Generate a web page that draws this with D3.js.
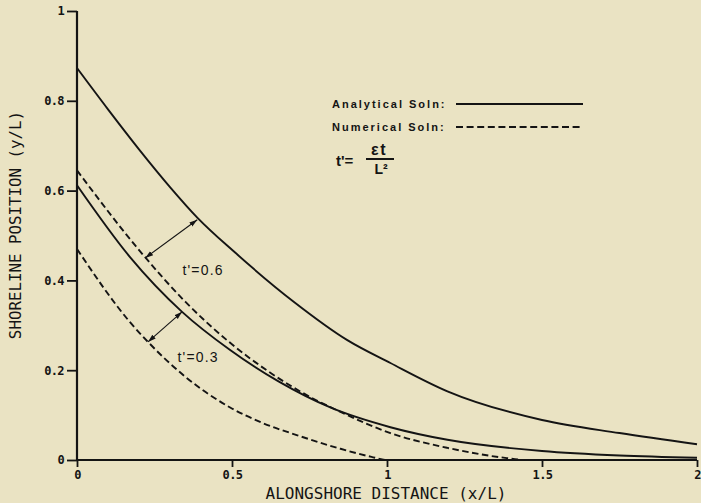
<!DOCTYPE html>
<html>
<head>
<meta charset="utf-8">
<script src="https://cdn.jsdelivr.net/npm/d3@7"></script>
<style>
  html, body { margin: 0; padding: 0; background: #eae3c3; }
  svg { display: block; }
</style>
</head>
<body>
<svg id="chart" width="701" height="503"></svg>
<script>
// ---- Data ----
const xTicks = [0, 0.5, 1, 1.5, 2];
const xTickLabels = ["0", "0.5", "1", "1.5", "2"];
const yTicks = [0, 0.2, 0.4, 0.6, 0.8, 1];
const yTickLabels = ["0", "0.2", "0.4", "0.6", "0.8", "1"];

const analyticalUpperX = [0, 0.1, 0.2, 0.3, 0.388, 0.51, 0.7, 0.872, 1.011, 1.195, 1.5, 1.75, 2.0];
const analyticalUpperY = [0.873, 0.781, 0.692, 0.608, 0.540, 0.462, 0.352, 0.267, 0.216, 0.153, 0.089, 0.060, 0.035];

const analyticalLowerX = [0, 0.171, 0.339, 0.494, 0.65, 0.817, 1.011, 1.195, 1.5, 1.75, 2.0];
const analyticalLowerY = [0.612, 0.452, 0.330, 0.245, 0.175, 0.117, 0.073, 0.045, 0.020, 0.010, 0.005];

const numericalUpperX = [0, 0.213, 0.35, 0.494, 0.62, 0.753, 0.85, 1.011, 1.195, 1.367, 1.45, 1.6, 2.0];
const numericalUpperY = [0.645, 0.457, 0.352, 0.261, 0.196, 0.140, 0.107, 0.060, 0.027, 0.006, 0.0, 0.0, 0.0];

const numericalLowerX = [0, 0.171, 0.229, 0.35, 0.494, 0.6, 0.711, 0.85, 0.95, 1.0, 1.5, 2.0];
const numericalLowerY = [0.47, 0.307, 0.263, 0.185, 0.117, 0.082, 0.055, 0.025, 0.007, 0.0, 0.0, 0.0];

// arrows between curves: [x1, y1, x2, y2] in data units, and their labels
const arrowLabels = ["t'=0.6", "t'=0.3"];
const arrowEnds = [[0.220, 0.450, 0.388, 0.535], [0.229, 0.263, 0.339, 0.330]];
const arrowLabelPos = [[0.340, 0.413], [0.324, 0.218]];

const legendLabels = ["Analytical Soln:", "Numerical Soln:"];

// ---- Drawing ----
const svg = d3.select("#chart");
const ink = "#141414";
const x = d3.scaleLinear().domain([0, 2]).range([77, 697]);
const y = d3.scaleLinear().domain([0, 1]).range([460, 11]);

// Axes
const yAxis = d3.axisLeft(y).tickValues(yTicks).tickFormat((d, i) => yTickLabels[i]).tickSize(10).tickPadding(3);
const gy = svg.append("g").attr("transform", `translate(${x(0)},0)`).call(yAxis);
const xAxis = d3.axisBottom(x).tickValues(xTicks).tickFormat((d, i) => xTickLabels[i]).tickSize(7).tickPadding(3);
const gx = svg.append("g").attr("transform", `translate(0,${y(0)})`).call(xAxis);

[gx, gy].forEach(g => {
  g.select(".domain").attr("stroke", ink).attr("stroke-width", 2.2);
  g.selectAll(".tick line").attr("stroke", ink).attr("stroke-width", 1.8);
  g.selectAll(".tick text")
    .attr("fill", ink)
    .style("font-family", "'DejaVu Sans Mono', monospace")
    .style("font-weight", "bold")
    .style("font-size", "12px")
    .style("letter-spacing", "-0.6px");
});
gx.select(".domain").attr("d", `M${x(0)},0H${x(2)}`);
gy.select(".domain").attr("d", `M0,${y(0)}V${y(1)}`);

// Axis titles
svg.append("text")
  .attr("x", 386).attr("y", 499)
  .attr("text-anchor", "middle")
  .attr("fill", ink)
  .style("font-family", "'DejaVu Sans Mono', monospace")
  .style("font-size", "16px")
  .text("ALONGSHORE DISTANCE (x/L)");

svg.append("text")
  .attr("transform", `translate(21,225) rotate(-90)`)
  .attr("text-anchor", "middle")
  .attr("fill", ink)
  .style("font-family", "'DejaVu Sans Mono', monospace")
  .style("font-size", "15.8px")
  .text("SHORELINE POSITION (y/L)");

// Curves
const line = d3.line().x(d => x(d[0])).y(d => y(d[1])).curve(d3.curveMonotoneX);
const series = [
  { xs: analyticalUpperX, ys: analyticalUpperY, dash: null },
  { xs: analyticalLowerX, ys: analyticalLowerY, dash: null },
  { xs: numericalUpperX, ys: numericalUpperY, dash: "6.5,3.5" },
  { xs: numericalLowerX, ys: numericalLowerY, dash: "6.5,3.5" }
];
svg.selectAll("path.curve").data(series).enter().append("path")
  .attr("class", "curve")
  .attr("d", s => line(s.xs.map((v, i) => [v, s.ys[i]])))
  .attr("fill", "none")
  .attr("stroke", ink)
  .attr("stroke-width", 1.9)
  .attr("stroke-dasharray", s => s.dash);

// Arrows
const defs = svg.append("defs");
defs.append("marker").attr("id", "ah").attr("viewBox", "0 0 10 10")
  .attr("refX", 10).attr("refY", 5).attr("markerWidth", 8).attr("markerHeight", 8)
  .attr("markerUnits", "userSpaceOnUse").attr("orient", "auto-start-reverse")
  .append("path").attr("d", "M0,1.8L10,5L0,8.2Z").attr("fill", ink).attr("stroke", "none");

svg.selectAll("line.arrow").data(arrowEnds).enter().append("line")
  .attr("class", "arrow")
  .attr("x1", d => x(d[0])).attr("y1", d => y(d[1]))
  .attr("x2", d => x(d[2])).attr("y2", d => y(d[3]))
  .attr("stroke", ink).attr("stroke-width", 1.1)
  .attr("marker-start", "url(#ah)").attr("marker-end", "url(#ah)");

svg.selectAll("text.alabel").data(arrowLabels).enter().append("text")
  .attr("class", "alabel")
  .attr("x", (d, i) => x(arrowLabelPos[i][0]))
  .attr("y", (d, i) => y(arrowLabelPos[i][1]))
  .attr("fill", ink)
  .style("font-family", "'Liberation Sans', Arial, sans-serif")
  .style("font-size", "14px")
  .style("letter-spacing", "1.2px")
  .text(d => d);

// Legend
const legend = svg.append("g");
legendLabels.forEach((lab, i) => {
  const ly = 104 + i * 23;
  legend.append("text")
    .attr("x", 332).attr("y", ly + 4)
    .attr("fill", ink)
    .style("font-family", "'Liberation Sans', Arial, sans-serif")
    .style("font-size", "11px")
    .style("font-weight", "bold")
    .style("letter-spacing", "2px")
    .text(lab);
  legend.append("line")
    .attr("x1", 456).attr("x2", 583).attr("y1", ly).attr("y2", ly)
    .attr("stroke", ink).attr("stroke-width", 2)
    .attr("stroke-dasharray", i === 0 ? null : "7,3.6");
});

// Formula t' = εt / L²
const fg = svg.append("g").attr("fill", ink)
  .style("font-family", "'Liberation Sans', Arial, sans-serif")
  .style("font-weight", "bold");
fg.append("text").attr("x", 336).attr("y", 166).style("font-size", "15px").text("t'=");
fg.append("text").attr("x", 379).attr("y", 155).attr("text-anchor", "middle").style("font-size", "16px").style("letter-spacing", "1.5px").text("εt");
fg.append("line").attr("x1", 366).attr("x2", 394).attr("y1", 159).attr("y2", 159).attr("stroke", ink).attr("stroke-width", 2);
fg.append("text").attr("x", 381).attr("y", 174).attr("text-anchor", "middle").style("font-size", "14px").text("L²");
</script>
</body>
</html>
